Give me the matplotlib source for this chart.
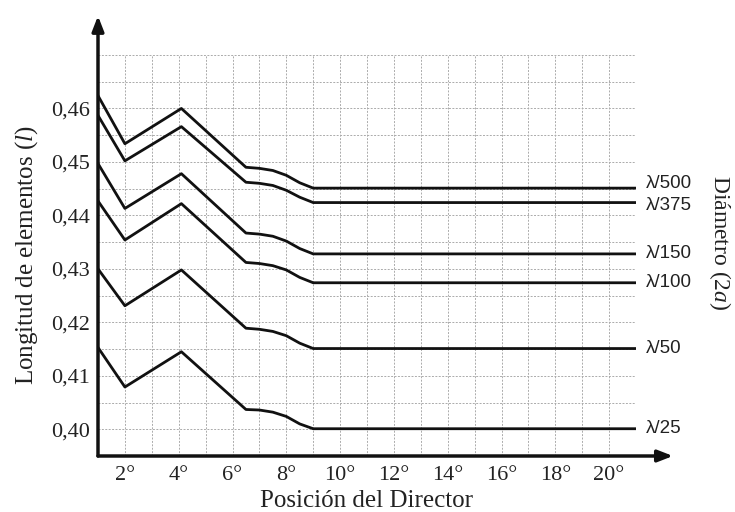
import matplotlib
matplotlib.use("Agg")
import matplotlib.pyplot as plt
import numpy as np

plt.rcParams["mathtext.fontset"] = "custom"
plt.rcParams["mathtext.it"] = "Liberation Serif:italic"
plt.rcParams["mathtext.rm"] = "Liberation Serif"

# Data
x_pos = [1, 2, 4.1, 6.5, 7.0, 7.5, 8.0, 8.5, 9.0, 21]
series_labels = ["λ/500", "λ/375", "λ/150", "λ/100", "λ/50", "λ/25"]
y_500 = [0.4624, 0.4534, 0.4600, 0.4490, 0.4488, 0.4484, 0.4475, 0.4461, 0.4451, 0.4451]
y_375 = [0.4587, 0.4502, 0.4566, 0.4462, 0.4460, 0.4456, 0.4447, 0.4434, 0.4424, 0.4424]
y_150 = [0.4497, 0.4413, 0.4478, 0.4367, 0.4365, 0.4361, 0.4352, 0.4338, 0.4328, 0.4328]
y_100 = [0.4427, 0.4354, 0.4422, 0.4312, 0.4310, 0.4306, 0.4298, 0.4284, 0.4274, 0.4274]
y_50 = [0.4300, 0.4231, 0.4298, 0.4189, 0.4187, 0.4183, 0.4175, 0.4161, 0.4151, 0.4151]
y_25 = [0.4153, 0.4079, 0.4145, 0.4037, 0.4036, 0.4032, 0.4024, 0.4010, 0.4001, 0.4001]
all_series = [y_500, y_375, y_150, y_100, y_50, y_25]

x_ticks = [2, 4, 6, 8, 10, 12, 14, 16, 18, 20]
x_ticklabels = ["2°", "4°", "6°", "8°", "10°", "12°", "14°", "16°", "18°", "20°"]
y_ticks = [0.40, 0.41, 0.42, 0.43, 0.44, 0.45, 0.46]
y_ticklabels = ["0,40", "0,41", "0,42", "0,43", "0,44", "0,45", "0,46"]

serif = "Liberation Serif"
sans = "Liberation Sans"

fig = plt.figure(figsize=(7.35, 5.12), dpi=100)
ax = fig.add_axes([98/735, 1-456/512, 538/735, 401/512])
ax.set_xlim(1, 21)
ax.set_ylim(0.395, 0.47)

# grid
for gx in np.arange(2, 22, 1):
    ax.axvline(gx, color="#ababab", lw=0.7, ls=(0, (2, 1.5)), zorder=1)
for gy in np.arange(0.40, 0.4701, 0.005):
    ax.axhline(gy, color="#ababab", lw=0.7, ls=(0, (2, 1.5)), zorder=1)

label_shift_pts = [3, -2, 0, 0, 0, 0]
for ys, lab, dy in zip(all_series, series_labels, label_shift_pts):
    ax.plot(x_pos, ys, color="#111111", lw=2.0, solid_joinstyle="round", zorder=3)
    ax.annotate(lab, xy=(21, ys[-1]), xytext=(7, dy), textcoords="offset points",
                fontsize=13.5, family=sans, va="center", ha="left", color="#222222",
                annotation_clip=False)

for s in ax.spines.values():
    s.set_visible(False)

# axes with arrows
ax.annotate("", xy=(1.0 + (673-98)/26.9, 0.395), xytext=(1, 0.395),
            arrowprops=dict(arrowstyle="-|>,head_length=0.9,head_width=0.35", lw=2.5, color="#111111",
                            shrinkA=0, shrinkB=0), annotation_clip=False, zorder=5)
ax.annotate("", xy=(1, 0.395 + (456-17)/5333), xytext=(1, 0.395),
            arrowprops=dict(arrowstyle="-|>,head_length=0.9,head_width=0.35", lw=2.5, color="#111111",
                            shrinkA=0, shrinkB=0), annotation_clip=False, zorder=5)

ax.set_xticks(x_ticks)
ax.set_xticklabels(x_ticklabels, fontsize=16, family=serif, color="#222222")
ax.set_yticks(y_ticks)
ax.set_yticklabels(y_ticklabels, fontsize=16, family=serif, color="#222222")
ax.tick_params(axis="y", length=0, pad=6)
ax.tick_params(axis="x", length=0, pad=7)

ax.set_xlabel("Posición del Director", fontsize=18, family=serif, labelpad=4, color="#222222")
ax.set_ylabel("Longitud de elementos ($\\mathit{l}$)", fontsize=18, family=serif, labelpad=8,
              color="#222222")

fig.text(720/735, 1-243/512, "Diámetro ($\\mathit{2a}$)", rotation=-90, fontsize=17, family=serif,
         ha="center", va="center", color="#222222")

fig.savefig("out.png", dpi=100)
